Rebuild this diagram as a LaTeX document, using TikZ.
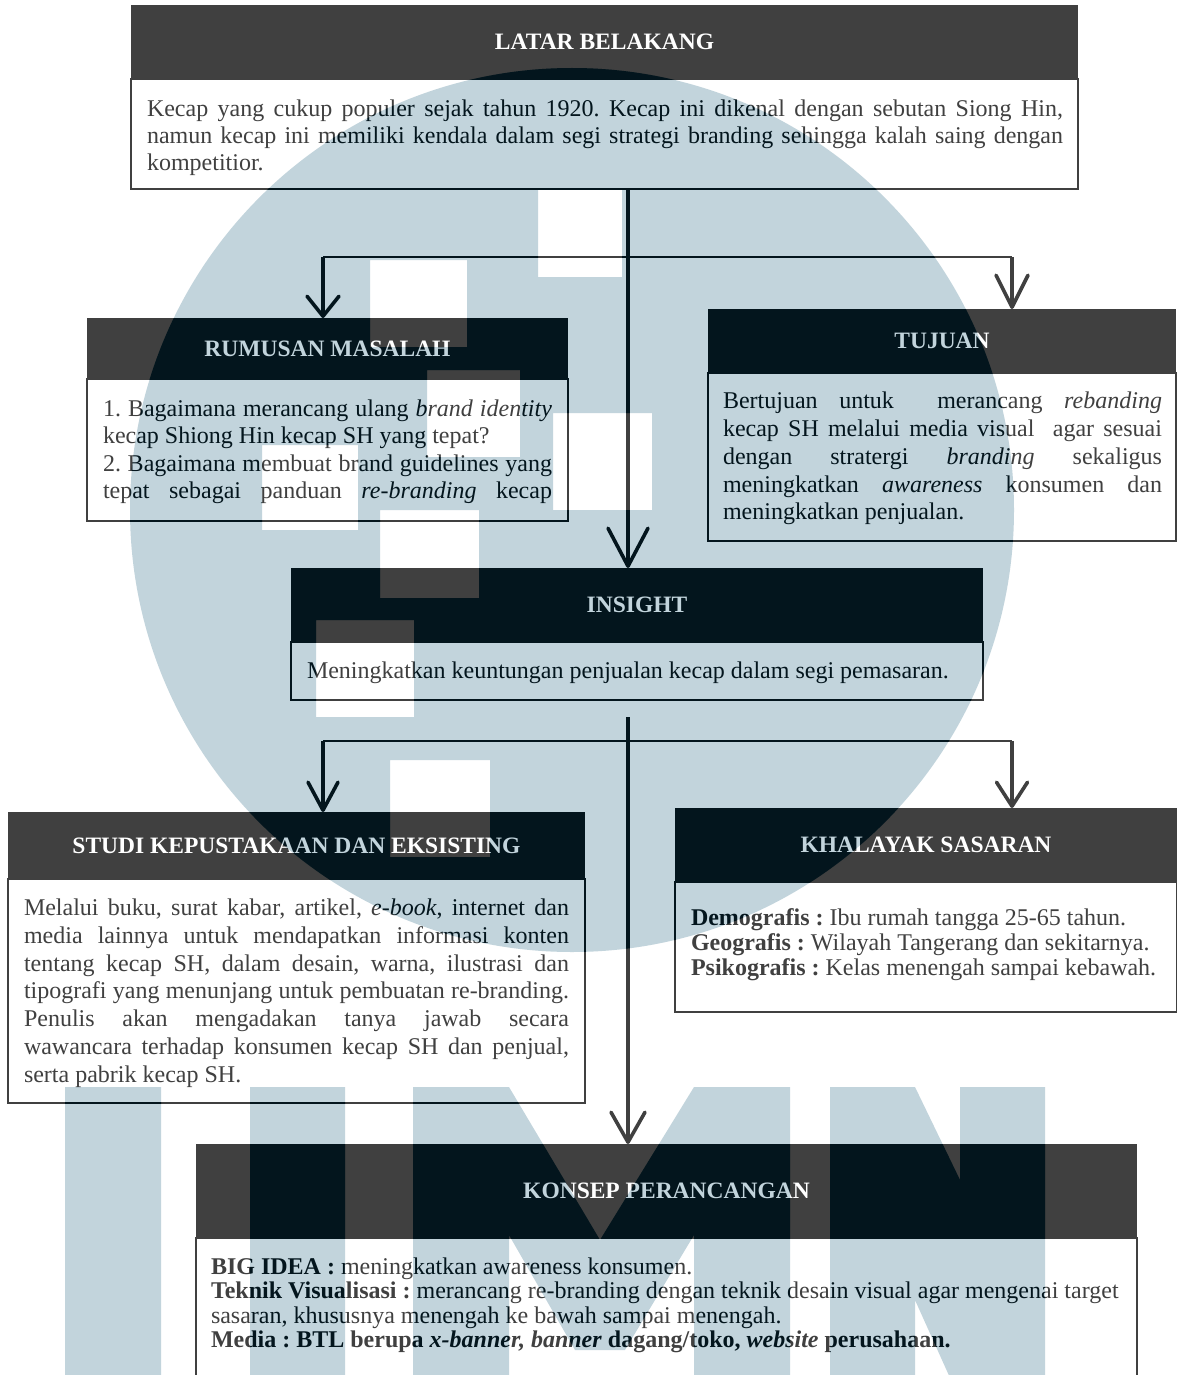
\documentclass[tikz,border=0pt]{standalone}
\usepackage{fontspec}
\setmainfont{Liberation Serif}
\usetikzlibrary{arrows.meta}
\frenchspacing
\definecolor{ink}{HTML}{404040}
\definecolor{wm}{HTML}{C2D4DC}
\tikzset{
  headbox/.style={fill=ink, draw=none, anchor=north west, inner sep=0pt, outer sep=0pt, text=white, font=\bfseries\fontsize{23.5}{28}\selectfont},
  bodybox/.style={fill=white, draw=ink, line width=2pt, anchor=north west, inner sep=0pt, outer sep=0pt},
  txt/.style={anchor=base west, inner sep=0pt, outer sep=0pt, text=ink, font=\fontsize{24}{28}\selectfont},
  vconn/.style={draw=ink, line width=3.6pt},
  hconn/.style={draw=ink, line width=2.4pt},
  barb/.style 2 args={-{Straight Barb[length=#1, width=#2, round]}},
}
\newcommand\wmshape{%
  (572,510) circle [radius=442pt]
  (538,190) rectangle (622,277)
  (370,260) rectangle (467,347)
  (427,370) rectangle (520,457)
  (262,445) rectangle (358,530)
  (380,510) rectangle (479,598)
  (553,413) rectangle (652,510)
  (316,620) rectangle (414,717)
  (390,760) rectangle (490,857)
  % U
  (65,1087) -- (161,1087) -- (161,1400) -- (65,1400) -- cycle
  (250,1087) -- (345,1087) -- (345,1400) -- (250,1400) -- cycle
  % M
  (413,1087) -- (509,1087) -- (600,1240) -- (694,1087) -- (790,1087) -- (790,1400)
  -- (694,1400) -- (694,1235) -- (625,1350) -- (575,1350) -- (509,1235) -- (509,1400)
  -- (413,1400) -- cycle
  % N
  (830,1087) -- (915,1087) -- (960,1180) -- (960,1087) -- (1045,1087) -- (1045,1400)
  -- (960,1400) -- (915,1300) -- (915,1400) -- (830,1400) -- cycle
}
\begin{document}
\begin{tikzpicture}[x=1pt,y=-1pt]
\useasboundingbox (0,0) rectangle (1177,1375);
\clip (0,0) rectangle (1177,1375);
\fill[white] (0,0) rectangle (1177,1375);

% ---------- boxes ----------
\node[bodybox, minimum width=947pt, minimum height=110pt] (latar) at (131,79) {};
\node[headbox, minimum width=947pt, minimum height=74pt] (latarhead) at (131,5) {LATAR BELAKANG};

\node[bodybox, minimum width=481pt, minimum height=142pt] (rumusan) at (87,379) {};
\node[headbox, minimum width=481pt, minimum height=61pt] (rumusanhead) at (87,318) {RUMUSAN MASALAH};

\node[bodybox, minimum width=468pt, minimum height=168pt] (tujuan) at (708,373) {};
\node[headbox, minimum width=468pt, minimum height=64pt] (tujuanhead) at (708,309) {TUJUAN};

\node[bodybox, minimum width=692pt, minimum height=58pt] (insight) at (291,642) {};
\node[headbox, minimum width=692pt, minimum height=74pt] (insighthead) at (291,568) {INSIGHT};

\node[bodybox, minimum width=577pt, minimum height=224pt] (studi) at (8,879) {};
\node[headbox, minimum width=577pt, minimum height=67pt] (studihead) at (8,812) {STUDI KEPUSTAKAAN DAN EKSISTING};

\node[bodybox, minimum width=502pt, minimum height=130pt] (khalayak) at (675,882) {};
\node[headbox, minimum width=502pt, minimum height=74pt] (khalayakhead) at (675,808) {KHALAYAK SASARAN};

\node[bodybox, minimum width=941pt, minimum height=170pt] (konsep) at (196,1238) {};
\node[headbox, minimum width=941pt, minimum height=94pt] (konsephead) at (196,1144) {KONSEP PERANCANGAN};

% ---------- texts ----------
\node[txt] (lb1) at (147,117) {\makebox[916pt][s]{Kecap yang cukup populer sejak tahun 1920. Kecap ini dikenal dengan sebutan Siong Hin,}};
\node[txt] (lb2) at (147,144) {\makebox[916pt][s]{namun kecap ini memiliki kendala dalam segi strategi branding sehingga kalah saing dengan}};
\node[txt] (lb3) at (147,171) {kompetitior.};

\node[txt] (rm1) at (103,416) {\makebox[449pt][s]{1. Bagaimana merancang ulang \textit{brand identity}}};
\node[txt] (rm2) at (103,443) {kecap Shiong Hin kecap SH yang tepat?};
\node[txt] (rm3) at (103,471) {\makebox[449pt][s]{2. Bagaimana membuat brand guidelines yang}};
\node[txt] (rm4) at (103,498) {\makebox[449pt][s]{tepat sebagai panduan \textit{re-branding} kecap}};

\node[txt] (tj1) at (723,408) {\makebox[439pt][s]{Bertujuan untuk \ merancang \textit{rebanding}}};
\node[txt] (tj2) at (723,436) {\makebox[439pt][s]{kecap SH melalui media visual \ agar sesuai}};
\node[txt] (tj3) at (723,464) {\makebox[439pt][s]{dengan stratergi \textit{branding} sekaligus}};
\node[txt] (tj4) at (723,492) {\makebox[439pt][s]{meningkatkan \textit{awareness} konsumen dan}};
\node[txt] (tj5) at (723,519) {meningkatkan penjualan.};

\node[txt] (in1) at (307,678) {Meningkatkan keuntungan penjualan kecap dalam segi pemasaran.};

\node[txt] (st1) at (24,915) {\makebox[545pt][s]{Melalui buku, surat kabar, artikel, \textit{e-book}, internet dan}};
\node[txt] (st2) at (24,943) {\makebox[545pt][s]{media lainnya untuk mendapatkan informasi konten}};
\node[txt] (st3) at (24,971) {\makebox[545pt][s]{tentang kecap SH, dalam desain, warna, ilustrasi dan}};
\node[txt] (st4) at (24,998) {\makebox[545pt][s]{tipografi yang menunjang untuk pembuatan re-branding.}};
\node[txt] (st5) at (24,1026) {\makebox[545pt][s]{Penulis akan mengadakan tanya jawab secara}};
\node[txt] (st6) at (24,1054) {\makebox[545pt][s]{wawancara terhadap konsumen kecap SH dan penjual,}};
\node[txt] (st7) at (24,1082) {serta pabrik kecap SH.};

\node[txt] (kh1) at (691,925) {\textbf{Demografis :} Ibu rumah tangga 25-65 tahun.};
\node[txt] (kh2) at (691,950) {\textbf{Geografis :} Wilayah Tangerang dan sekitarnya.};
\node[txt] (kh3) at (691,975) {\textbf{Psikografis :} Kelas menengah sampai kebawah.};

\node[txt] (kp1) at (211,1274) {\textbf{BIG IDEA :} meningkatkan awareness konsumen.};
\node[txt] (kp2) at (211,1298) {\textbf{Teknik Visualisasi :} merancang re-branding dengan teknik desain visual agar mengenai target};
\node[txt] (kp3) at (211,1323) {sasaran, khususnya menengah ke bawah sampai menengah.};
\node[txt] (kp4) at (211,1347) {\textbf{Media : BTL berupa \textit{x-banner, banner} dagang/toko, \textit{website} perusahaan.}};

% ---------- connectors ----------
\coordinate (t1) at (628,189);
\coordinate (b1l) at (323,257);
\coordinate (b1r) at (1012,257);
\coordinate (t2) at (628,717);
\coordinate (b2l) at (323,741);
\coordinate (b2r) at (1012,741);

\draw[hconn] (b1l) -- (b1r);
\draw[hconn] (b2l) -- (b2r);
\draw[vconn, barb={38pt}{40pt}] (t1) -- (t1 |- insighthead.north);
\draw[vconn, barb={20pt}{32pt}] (b1l) -- (b1l |- rumusanhead.north);
\draw[vconn, barb={32pt}{32pt}] (b1r) -- (b1r |- tujuanhead.north);
\draw[vconn, barb={30pt}{34pt}] (t2) -- (t2 |- konsephead.north);
\draw[vconn, barb={28pt}{30pt}] (b2l) -- (b2l |- studihead.north);
\draw[vconn, barb={24pt}{31pt}] (b2r) -- (b2r |- khalayakhead.north);

% ---------- watermark ----------
\begin{scope}[blend mode=color burn]
\fill[wm, even odd rule] \wmshape;
\end{scope}
\begin{scope}[blend mode=multiply]
\fill[wm, even odd rule] \wmshape;
\end{scope}
\end{tikzpicture}
\end{document}
